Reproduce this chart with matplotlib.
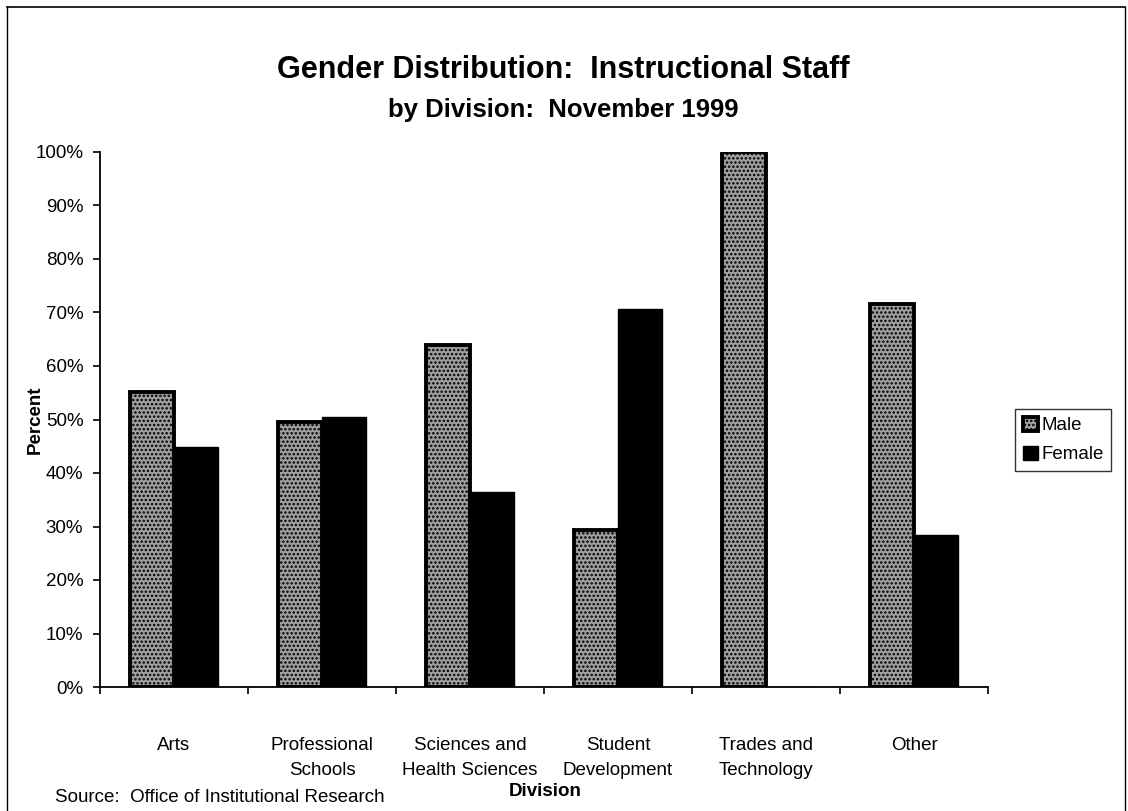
import numpy as np
import matplotlib
matplotlib.use("Agg")
from matplotlib import pyplot as plt
from matplotlib.lines import Line2D
from matplotlib.ticker import FixedLocator, PercentFormatter

divisions = ["Arts", "Professional\nSchools", "Sciences and\nHealth Sciences",
             "Student\nDevelopment", "Trades and\nTechnology", "Other"]
male = [55.2, 49.6, 64.0, 29.3, 100.0, 71.5]
female = [44.8, 50.4, 36.4, 70.7, 0.0, 28.5]
yticks = [0, 10, 20, 30, 40, 50, 60, 70, 80, 90, 100]

plt.rcParams['font.family'] = ['Liberation Sans', 'DejaVu Sans']
plt.rcParams['hatch.linewidth'] = 1.2

fig = plt.figure(figsize=(11.28, 8.11), dpi=100)
ax = fig.add_axes([100 / 1128, 1 - 687 / 811, 888 / 1128, 535 / 811])

x = np.arange(len(divisions))
w = 0.297
ax.bar(x - w / 2, male, w, facecolor='#a0a0a0', edgecolor='black',
       hatch='....', linewidth=2.8, label='Male')
ax.bar(x + w / 2, female, w, facecolor='black', edgecolor='black',
       linewidth=1, label='Female')

ax.set_xlim(-0.5, len(divisions) - 0.5)
ax.set_ylim(0, 100)
ax.set_yticks(yticks)
ax.yaxis.set_major_formatter(PercentFormatter(decimals=0))
ax.set_xticks(x)
ax.set_xticklabels(divisions, fontsize=13.5, linespacing=1.65)
ax.xaxis.set_minor_locator(FixedLocator(np.arange(len(divisions) + 1) - 0.5))
ax.tick_params(axis='x', which='major', length=0, pad=36)
ax.tick_params(axis='x', which='minor', length=5, width=1.2, direction='out')
ax.tick_params(axis='y', length=5, width=1.2, direction='out', labelsize=13.5, pad=7)
for lab in ax.get_xticklabels():
    lab.set_verticalalignment('top')

for side in ['top', 'right']:
    ax.spines[side].set_visible(False)
for side in ['left', 'bottom']:
    ax.spines[side].set_linewidth(1.3)

fig.text(35 / 1128, 1 - 420 / 811, 'Percent', fontsize=13.5, fontweight='bold',
         rotation=90, ha='center', va='center')
fig.text(545 / 1128, 1 - 792 / 811, 'Division', fontsize=13.5, fontweight='bold',
         ha='center', va='center')

fig.text(0.4996, 1 - 78 / 811, 'Gender Distribution:  Instructional Staff',
         fontsize=22, fontweight='bold', ha='center', va='baseline')
fig.text(0.4996, 1 - 117 / 811, 'by Division:  November 1999',
         fontsize=18.5, fontweight='bold', ha='center', va='baseline')
fig.text(55 / 1128, 1 - 797 / 811, 'Source:  Office of Institutional Research',
         fontsize=13.5, ha='left', va='center')

leg = ax.legend(loc='center left', bbox_to_anchor=(1015 / 1128, 1 - 440 / 811),
                bbox_transform=fig.transFigure, fontsize=13.5, frameon=True,
                fancybox=False, edgecolor='black', handlelength=0.8,
                handleheight=0.8, handletextpad=0.2, borderpad=0.4,
                labelspacing=0.6, borderaxespad=0)
leg.get_frame().set_linewidth(1.0)

# page border
fig.add_artist(Line2D([7 / 1128, 1125 / 1128], [1 - 7 / 811, 1 - 7 / 811],
                      transform=fig.transFigure, color='black', lw=1.2))
fig.add_artist(Line2D([7 / 1128, 7 / 1128], [0, 1 - 7 / 811],
                      transform=fig.transFigure, color='black', lw=1.0))
fig.add_artist(Line2D([1125 / 1128, 1125 / 1128], [0, 1 - 7 / 811],
                      transform=fig.transFigure, color='black', lw=1.0))

fig.savefig('out.png', dpi=100)
